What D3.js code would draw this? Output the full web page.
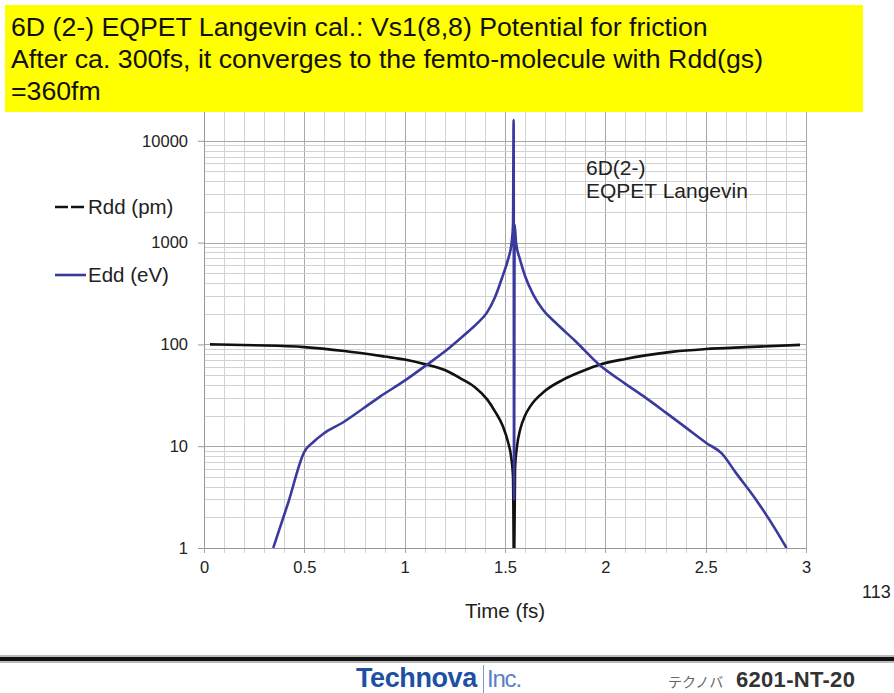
<!DOCTYPE html>
<html>
<head>
<meta charset="utf-8">
<script src="https://cdn.jsdelivr.net/npm/d3@7"></script>
<style>
  body { margin: 0; background: #fff; }
  svg { display: block; font-family: "Liberation Sans", Arial, sans-serif; }
</style>
</head>
<body>
<div id="chart"></div>
<script>
var titleLines = [
    "6D (2-) EQPET Langevin cal.: Vs1(8,8) Potential for friction",
    "After ca. 300fs, it converges to the femto-molecule with Rdd(gs)",
    "=360fm"
];

// Rdd (pm), black
var rddTime = [0.03, 0.25, 0.5, 0.7, 0.9, 1.0, 1.1, 1.2, 1.29, 1.35, 1.41, 1.45, 1.49, 1.515, 1.53, 1.54, 1.545,
               1.55, 1.56, 1.575, 1.6, 1.625, 1.7, 1.79, 1.9, 1.97, 2.1, 2.2, 2.34, 2.5, 2.7, 2.97];
var rddValue = [100, 98, 94, 86, 76, 71, 64, 56, 45, 38, 29, 22, 15.6, 11, 8, 5, 0.5,
                6, 10, 14.4, 20, 24.5, 35, 45, 56, 63, 72, 78, 85, 90, 94, 99];

// Edd (eV), blue
var eddTime = [0.345, 0.42, 0.5, 0.545, 0.6, 0.69, 0.8, 0.877, 1.0, 1.11, 1.2, 1.3, 1.36, 1.41, 1.45, 1.49, 1.515, 1.533, 1.54,
               1.543, 1.545, 1.548, 1.555, 1.575, 1.6, 1.64, 1.69, 1.75, 1.85, 1.97, 2.1, 2.2, 2.3, 2.4, 2.505, 2.58, 2.65, 2.75, 2.85, 2.903];
var eddValue = [1, 2.8, 8.8, 11, 13.5, 17, 24, 30.7, 44, 63, 85, 125, 160, 205, 290, 480, 680, 1000, 1500,
                16000, 3, 1500, 1000, 680, 470, 310, 218, 165, 108, 63, 41, 30, 21.5, 15.3, 10.7, 8.5, 5.5, 3, 1.5, 1];

var xTicks = [0, 0.5, 1, 1.5, 2, 2.5, 3];
var yTicks = [1, 10, 100, 1000, 10000];

var legendNames = ["Rdd (pm)", "Edd (eV)"];
var seriesColors = ["#111111", "#3a3a9e"];

var width = 894, height = 693;
var plot = {left: 204, right: 806, top: 39, bottom: 548};

var svg = d3.select("#chart").append("svg")
    .attr("width", width)
    .attr("height", height);

var x = d3.scaleLinear().domain([0, 3]).range([plot.left, plot.right]);
var y = d3.scaleLog().domain([1, 100000]).range([plot.bottom, plot.top]);

// grid: vertical every 0.1, horizontal on 1..9 of each decade
var xGrid = d3.range(0, 31).map(function (i) { return i / 10; });
var yGrid = [];
for (var p = 0; p < 5; ++p) {
    for (var m = 1; m < 10; ++m) yGrid.push(m * Math.pow(10, p));
}

svg.append("g").selectAll("line")
    .data(xGrid)
    .enter().append("line")
    .attr("x1", function (d) { return Math.round(x(d)) + 0.5; })
    .attr("x2", function (d) { return Math.round(x(d)) + 0.5; })
    .attr("y1", plot.top)
    .attr("y2", plot.bottom + 5)
    .attr("stroke", function (d) { return Math.abs(d * 2 - Math.round(d * 2)) < 1e-6 ? "#a8a8a8" : "#d2d2d2"; })
    .attr("stroke-width", 1);

svg.append("g").selectAll("line")
    .data(yGrid)
    .enter().append("line")
    .attr("x1", plot.left)
    .attr("x2", plot.right)
    .attr("y1", function (d) { return Math.round(y(d)) + 0.5; })
    .attr("y2", function (d) { return Math.round(y(d)) + 0.5; })
    .attr("stroke", function (d) { return yTicks.indexOf(d) >= 0 ? "#a8a8a8" : "#d2d2d2"; })
    .attr("stroke-width", 1);

// axes
var xAxis = d3.axisBottom(x).tickValues(xTicks).tickSize(0).tickPadding(13)
    .tickFormat(function (d) { return String(d); });
var gx = svg.append("g").attr("transform", "translate(0," + plot.bottom + ")").call(xAxis);
gx.select(".domain").attr("stroke", "#999999");
gx.selectAll("text").attr("font-size", 16.5).attr("fill", "#222");

var yAxis = d3.axisLeft(y).tickValues(yTicks).tickSize(6).tickPadding(10)
    .tickFormat(function (d) { return String(d); });
var gy = svg.append("g").attr("transform", "translate(" + plot.left + ",0)").call(yAxis);
gy.select(".domain").remove();
gy.selectAll(".tick line").attr("stroke", "#999999");
gy.selectAll("text").attr("font-size", 16.5).attr("fill", "#222");
svg.append("line")
    .attr("x1", plot.left + 0.5).attr("x2", plot.left + 0.5)
    .attr("y1", plot.top).attr("y2", plot.bottom)
    .attr("stroke", "#999999");

// series
svg.append("clipPath").attr("id", "clip").append("rect")
    .attr("x", plot.left).attr("y", plot.top)
    .attr("width", plot.right - plot.left).attr("height", plot.bottom - plot.top);

var line = d3.line()
    .curve(d3.curveMonotoneX)
    .x(function (d) { return x(d[0]); })
    .y(function (d) { return y(d[1]); });

var rddData = d3.zip(rddTime, rddValue);
var eddData = d3.zip(eddTime, eddValue);

svg.append("path")
    .datum(rddData)
    .attr("clip-path", "url(#clip)")
    .attr("d", line)
    .attr("fill", "none")
    .attr("stroke", seriesColors[0])
    .attr("stroke-width", 2.6)
    .attr("stroke-linejoin", "round");

svg.append("path")
    .datum(eddData)
    .attr("clip-path", "url(#clip)")
    .attr("d", line)
    .attr("fill", "none")
    .attr("stroke", seriesColors[1])
    .attr("stroke-width", 2.6)
    .attr("stroke-linejoin", "round");

// legend
var legendY = [207, 275];
legendNames.forEach(function (name, i) {
    svg.append("line")
        .attr("x1", 55).attr("x2", 86)
        .attr("y1", legendY[i]).attr("y2", legendY[i])
        .attr("stroke", seriesColors[i])
        .attr("stroke-width", 2.6)
        .attr("stroke-dasharray", i === 0 ? "13,3" : null);
    svg.append("text")
        .attr("x", 88).attr("y", legendY[i] + 7)
        .attr("font-size", 20.5)
        .attr("fill", "#222")
        .text(name);
});

// annotation
svg.append("text").attr("x", 586).attr("y", 175).attr("font-size", 21).attr("fill", "#222").text("6D(2-)");
svg.append("text").attr("x", 586).attr("y", 198).attr("font-size", 21).attr("fill", "#222").text("EQPET Langevin");

// axis title
svg.append("text")
    .attr("x", x(1.5)).attr("y", 618)
    .attr("text-anchor", "middle")
    .attr("font-size", 20.5)
    .attr("fill", "#222")
    .text("Time (fs)");

svg.append("text").attr("x", 862).attr("y", 598).attr("font-size", 18).attr("fill", "#222").text("113");

// title box
svg.append("rect")
    .attr("x", 5).attr("y", 5).attr("width", 858).attr("height", 107)
    .attr("fill", "#ffff00");
titleLines.forEach(function (t, i) {
    svg.append("text")
        .attr("x", 11).attr("y", 36 + i * 32)
        .attr("font-size", 26.7)
        .attr("fill", "#111")
        .text(t);
});

// footer
svg.append("rect").attr("x", 0).attr("y", 655).attr("width", width).attr("height", 8).attr("fill", "#bbbbbb");
svg.append("rect").attr("x", 0).attr("y", 657).attr("width", width).attr("height", 4).attr("fill", "#111111");

svg.append("text")
    .attr("x", 356).attr("y", 687)
    .attr("font-size", 27).attr("font-weight", "bold")
    .attr("fill", "#1f4fa3")
    .attr("letter-spacing", -0.4)
    .text("Technova");
svg.append("line")
    .attr("x1", 483.5).attr("x2", 483.5).attr("y1", 665).attr("y2", 693)
    .attr("stroke", "#7d9bd0").attr("stroke-width", 1);
svg.append("text")
    .attr("x", 487).attr("y", 687)
    .attr("font-size", 24)
    .attr("fill", "#5b80c4")
    .attr("letter-spacing", -1.2)
    .text("Inc.");

svg.append("text")
    .attr("x", 668).attr("y", 687)
    .attr("font-family", "'Noto Sans CJK JP', sans-serif")
    .attr("font-size", 14)
    .attr("fill", "#666")
    .text("テクノバ");
svg.append("text")
    .attr("x", 736).attr("y", 687)
    .attr("font-size", 22).attr("font-weight", "bold")
    .attr("fill", "#333")
    .attr("letter-spacing", 0.3)
    .text("6201-NT-20");
</script>
</body>
</html>
